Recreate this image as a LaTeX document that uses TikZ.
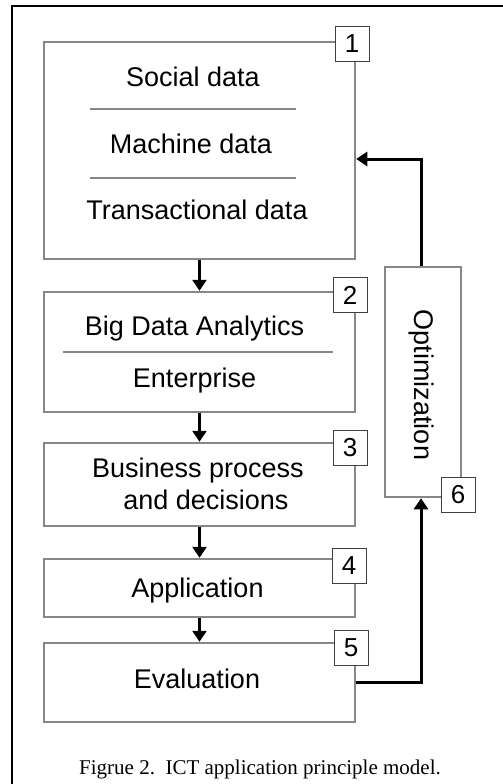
\documentclass[tikz,border=0pt]{standalone}
\usepackage{fontspec}
\setmainfont{Liberation Sans}
\newfontfamily\capfont{Liberation Serif}
\usetikzlibrary{arrows.meta,calc}
\definecolor{boxgray}{HTML}{878787}
\begin{document}
\begin{tikzpicture}[x=1pt,y=-1pt,
  box/.style={draw=boxgray,line width=2.5pt,fill=white,minimum width=311pt,inner sep=0pt},
  tag/.style={draw=black!75,line width=1pt,fill=white,minimum width=34pt,minimum height=35pt,inner sep=0pt,font=\fontsize{26}{30}\selectfont},
  txt/.style={anchor=base,inner sep=0pt,font=\fontsize{27}{32}\selectfont},
  sep/.style={draw=boxgray,line width=2.5pt},
  arr/.style={line width=3pt,-{Triangle[width=14pt,length=11pt]}},
]
\useasboundingbox (0,0) rectangle (503,784);
\fill[white] (0,0) rectangle (503,784);
\draw[line width=2pt] (503,6) -- (12,6) -- (12,784);

% main boxes
\node[box,minimum height=217pt] (b1) at (199.5,150.5) {};
\node[box,minimum height=120pt] (b2) at (199.5,352) {};
\node[box,minimum height=83pt]  (b3) at (199.5,484.5) {};
\node[box,minimum height=58pt]  (b4) at (199.5,588) {};
\node[box,minimum height=79pt]  (b5) at (199.5,682.5) {};
\node[box,minimum width=76pt,minimum height=230pt] (opt) at (423,382) {};

% texts
\node[txt] (t11) at (193,86) {Social data};
\node[txt] (t12) at (191,153) {Machine data};
\node[txt] (t13) at (197,219) {Transactional data};
\draw[sep] (90,109) -- (296,109);
\draw[sep] (90,178) -- (296,178);
\node[txt] (t21) at (194.5,335) {Big Data Analytics};
\node[txt] (t22) at (194.5,387) {Enterprise};
\draw[sep] (63,352) -- (333,352);
\node[txt] (t31) at (198,477) {Business process};
\node[txt] (t32) at (206,509) {and decisions};
\node[txt] (t4) at (197.5,597) {Application};
\node[txt] (t5) at (197,688) {Evaluation};
\node[inner sep=0pt,rotate=-90,font=\fontsize{27}{32}\selectfont] (t6) at (421,385) {Optimization};

% tags
\node[tag] (n1) at (352,44) {1};
\node[tag] (n2) at (350,295) {2};
\node[tag] (n3) at (350,447.5) {3};
\node[tag] (n4) at (349,565.5) {4};
\node[tag] (n5) at (351,647.5) {5};
\node[tag] (n6) at (458,494.5) {6};

% arrows
\draw[arr] (b1.south) -- (b2.north);
\draw[arr] (b2.south) -- (b3.north);
\draw[arr] (b3.south) -- (b4.north);
\draw[arr] (b4.south) -- (b5.north);
\draw[arr] ($(opt.north)+(-2,0)$) |- ($(b1.east)+(0,8.5)$);
\draw[arr] (b5.east) -| ($(opt.south)+(-2,0)$);

% caption
\node[anchor=base,inner sep=0pt,font=\capfont\fontsize{21}{25}\selectfont] (cap) at (260,774) {Figrue 2.\ \ ICT application principle model.};
\end{tikzpicture}
\end{document}
